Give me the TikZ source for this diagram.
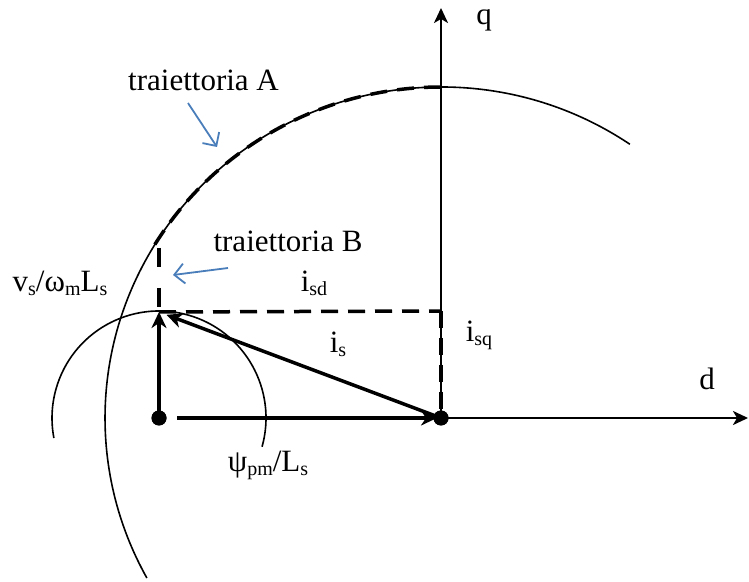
\documentclass[tikz,border=0pt]{standalone}
\usepackage{fontspec}
\setmainfont{Liberation Serif}
\usetikzlibrary{arrows.meta}
\definecolor{myblue}{RGB}{74,126,187}
\newcommand\lsub[1]{\raisebox{-4pt}{\fontsize{20}{21}\selectfont #1}}
\begin{document}
\begin{tikzpicture}[x=1pt,y=1pt,
  lbl/.style={font=\fontsize{31}{34}\selectfont, inner sep=0pt, anchor=base},
  thincurve/.style={line width=1.6pt},
  axis/.style={line width=2.2pt, -{Stealth[length=15pt,width=14pt,inset=4pt]}},
  vec/.style={line width=3.5pt, -{Stealth[length=16pt,width=15pt,inset=5pt]}},
  dashline/.style={line width=3.5pt, dash pattern=on 17pt off 10pt},
  bluearrow/.style={draw=myblue, line width=1.8pt, -{Straight Barb[length=10pt,width=20pt]}},
  dot/.style={circle, fill, inner sep=0pt, minimum size=15pt}]
\useasboundingbox (0,0) rectangle (749,581);
% points
\node[dot] (o) at (441,163) {};
\node[dot] (p) at (159,163) {};
\coordinate (t) at (159,269);
\coordinate (qq) at (441,270);
\coordinate (bt) at (159,333);
\coordinate (qtop) at (441,573);
\coordinate (dend) at (748,163);
% circles
\draw[thincurve] (o.center) ++(55.8:336 and 331) arc[start angle=55.8, end angle=208.9, x radius=336, y radius=331];
\draw[thincurve] (p.center) ++(-15.6:107) arc[start angle=-15.6, end angle=190.8, radius=107];
% dashed
\draw[dashline] (o.center) ++(90:336 and 331) arc[start angle=90, end angle=149, x radius=336, y radius=331];
\draw[line width=3.5pt, dash pattern=on 19pt off 21pt] (bt) -- (t);
\draw[dashline] (t) -- (qq);
% axes
\draw[axis] (o.center) -- (qtop);
\draw[axis] (o.center) -- (dend);
\draw[dashline] (qq) -- (o.center);
% vectors
\draw[vec, shorten <=18pt, shorten >=4pt] (p.center) -- (o.center);
\draw[vec] (p.center) -- (t);
\draw[vec, shorten >=8pt] (o.center) -- (t);
\node[dot] at (o.center) {};
\node[dot] at (p.center) {};
% blue arrows
\coordinate (a1) at (188,478); \coordinate (a2) at (217,434);
\coordinate (b1) at (228,313); \coordinate (b2) at (173,306);
\draw[bluearrow] (a1) -- (a2);
\draw[bluearrow] (b1) -- (b2);
% labels
\node[lbl] (la) at (203.5,490) {traiettoria A};
\node[lbl] (lb) at (288,329) {traiettoria B};
\node[lbl] (lq) at (484,556) {q};
\node[lbl] (ld) at (707,191) {d};
\node[lbl] (lisq) at (479,239) {i\lsub{sq}};
\node[lbl] (lisd) at (314,289) {i\lsub{sd}};
\node[lbl] (lis) at (338,228) {i\lsub{s}};
\node[lbl] (lv) at (60,289) {v\lsub{s}/ω\lsub{m}L\lsub{s}};
\node[lbl] (lpsi) at (268,110) {ψ\lsub{pm}/L\lsub{s}};
\end{tikzpicture}
\end{document}
